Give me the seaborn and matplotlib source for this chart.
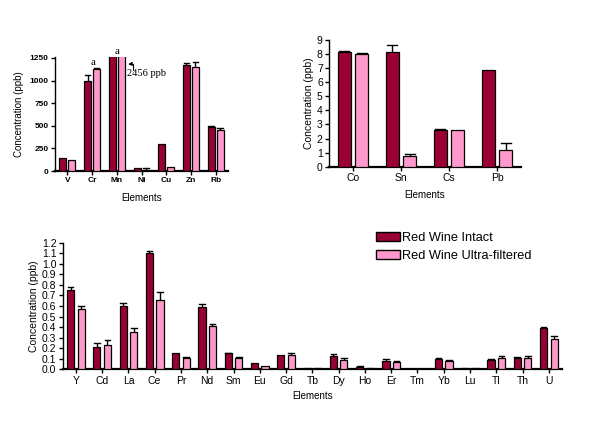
import numpy as np
import pandas as pd
import matplotlib
matplotlib.use("Agg")
import matplotlib.pyplot as plt
import seaborn as sns
from matplotlib.patches import Patch

# ---- data ----
samples = ["Red Wine Intact", "Red Wine Ultra-filtered"]

major_elements = ["V", "Cr", "Mn", "Ni", "Cu", "Zn", "Rb"]
major_intact = [140, 995, 2456, 30, 303, 1169, 485]
major_intact_err = [0, 63, 0, 0, 0, 22, 11]
major_filtered = [126, 1125, 2456, 15, 48, 1151, 451]
major_filtered_err = [0, 11, 0, 15, 0, 51, 30]

mid_elements = ["Co", "Sn", "Cs", "Pb"]
mid_intact = [8.13, 8.15, 2.61, 6.85]
mid_intact_err = [0.12, 0.48, 0.07, 0.0]
mid_filtered = [7.99, 0.73, 2.61, 1.16]
mid_filtered_err = [0.07, 0.15, 0.0, 0.50]

trace_elements = ["Y", "Cd", "La", "Ce", "Pr", "Nd", "Sm", "Eu", "Gd", "Tb",
                  "Dy", "Ho", "Er", "Tm", "Yb", "Lu", "Tl", "Th", "U"]
trace_intact = [0.748, 0.208, 0.603, 1.099, 0.152, 0.587, 0.152, 0.057, 0.139, 0.016,
                0.123, 0.022, 0.079, 0.0, 0.101, 0.009, 0.085, 0.110, 0.392]
trace_intact_err = [0.029, 0.038, 0.022, 0.019, 0.0, 0.029, 0.006, 0.0, 0.0, 0.0,
                    0.019, 0.006, 0.019, 0.0, 0.006, 0.0, 0.010, 0.007, 0.009]
trace_filtered = [0.568, 0.227, 0.350, 0.660, 0.107, 0.407, 0.107, 0.028, 0.133, 0.009,
                  0.092, 0.009, 0.066, 0.0, 0.079, 0.009, 0.104, 0.107, 0.287]
trace_filtered_err = [0.035, 0.048, 0.038, 0.069, 0.010, 0.019, 0.010, 0.0, 0.019, 0.0,
                      0.012, 0.0, 0.010, 0.0, 0.006, 0.0, 0.022, 0.019, 0.029]

colors = ["#990033", "#FF99CC"]

W, H = 602, 425
plt.rcParams['font.family'] = ['Liberation Sans', 'DejaVu Sans']


def px_axes(fig, x0, y0, x1, y1):
    """Axes from pixel box (left, top, right, bottom)."""
    return fig.add_axes([x0 / W, 1 - y1 / H, (x1 - x0) / W, (y1 - y0) / H])


def bar_panel(ax, elements, intact, intact_err, filtered, filtered_err, width, gap):
    df = pd.DataFrame({
        "element": elements * 2,
        "value": intact + filtered,
        "sample": [samples[0]] * len(elements) + [samples[1]] * len(elements),
    })
    sns.barplot(data=df, x="element", y="value", hue="sample", palette=colors,
                width=width, gap=gap, errorbar=None, edgecolor="black",
                linewidth=0.9, saturation=1, ax=ax, legend=False, zorder=3)
    for cont, err in zip(ax.containers, [intact_err, filtered_err]):
        xs = [p.get_x() + p.get_width() / 2 for p in cont]
        hs = [p.get_height() for p in cont]
        bw = cont[0].get_width()
        ax.errorbar(xs, hs, yerr=[np.zeros(len(err)), err], fmt="none",
                    ecolor="black", elinewidth=1, capsize=0, zorder=4)
        for x, h, e in zip(xs, hs, err):
            if e > 0:
                ax.plot([x - bw / 2.5, x + bw / 2.5], [h + e, h + e],
                        color="black", lw=1, zorder=4)
    sns.despine(ax=ax)
    ax.set_xlim(-0.5, len(elements) - 0.5)
    ax.spines["bottom"].set_linewidth(1.6)
    ax.spines["bottom"].set_zorder(2)
    ax.spines["left"].set_linewidth(1.0)
    ax.tick_params(axis="both", direction="out", length=3, width=1, pad=1.5)
    ax.set_xlabel("Elements", fontsize=7, labelpad=5)
    ax.set_ylabel("Concentration (ppb)", fontsize=7.5, labelpad=2)


fig = plt.figure(figsize=(W / 100, H / 100), dpi=100)

# top-left: major elements
ax1 = px_axes(fig, 55, 56.6, 228, 171)
bar_panel(ax1, major_elements, major_intact, major_intact_err,
          major_filtered, major_filtered_err, width=0.72, gap=0.22)
ax1.set_ylim(0, 1265)
ax1.set_yticks([0, 250, 500, 750, 1000, 1250])
ax1.set_yticklabels(["0", "250", "500", "750", "1000", "1250"])
for lab in ax1.get_xticklabels() + ax1.get_yticklabels():
    lab.set_fontsize(6)
    lab.set_fontweight("bold")
ax1.set_ylabel("Concentration (ppb)", fontsize=7, labelpad=4)
ax1.set_xlabel("Elements", fontsize=7, labelpad=6)
ax1.text(1.04, 1195, "a", fontsize=8, family="Liberation Serif", ha="center", va="center")
ax1.text(2.01, 1316, "a", fontsize=8, family="Liberation Serif", ha="center", va="center",
         clip_on=False)
ax1.text(2.42, 1073, "2456 ppb", fontsize=7.5, family="Liberation Serif",
         ha="left", va="center")
ax1.annotate("", xy=(2.46, 1184), xytext=(2.66, 1120),
             arrowprops=dict(arrowstyle="-|>", lw=0.8, shrinkA=0, shrinkB=0,
                             mutation_scale=5, color="black",
                             connectionstyle="angle,angleA=90,angleB=0,rad=0"))

# top-right: Co, Sn, Cs, Pb
ax2 = px_axes(fig, 329, 40, 521, 166.7)
bar_panel(ax2, mid_elements, mid_intact, mid_intact_err,
          mid_filtered, mid_filtered_err, width=0.73, gap=0.25)
ax2.set_ylim(0, 9)
ax2.set_yticks(range(0, 10))
ax2.tick_params(labelsize=7.5)
ax2.set_xlabel("Elements", fontsize=7, labelpad=5)

# bottom: trace elements
ax3 = px_axes(fig, 62.7, 242.7, 562, 369.3)
bar_panel(ax3, trace_elements, trace_intact, trace_intact_err,
          trace_filtered, trace_filtered_err, width=0.8, gap=0.32)
ax3.set_ylim(0, 1.2)
ax3.set_yticks(np.round(np.arange(0, 1.21, 0.1), 1))
ax3.set_yticklabels([f"{v:.1f}" for v in np.arange(0, 1.21, 0.1)])
ax3.tick_params(labelsize=7.5)
ax3.set_xlabel("Elements", fontsize=7, labelpad=4)

handles = [Patch(facecolor=c, edgecolor="black", linewidth=1) for c in colors]
fig.legend(handles, samples, loc="upper left", bbox_to_anchor=(371 / W, 1 - 227 / H),
           frameon=False, fontsize=9.2, handlelength=1.9, handleheight=0.75,
           handletextpad=0.15, labelspacing=0.45, borderaxespad=0)

fig.savefig("out.png", dpi=100)
